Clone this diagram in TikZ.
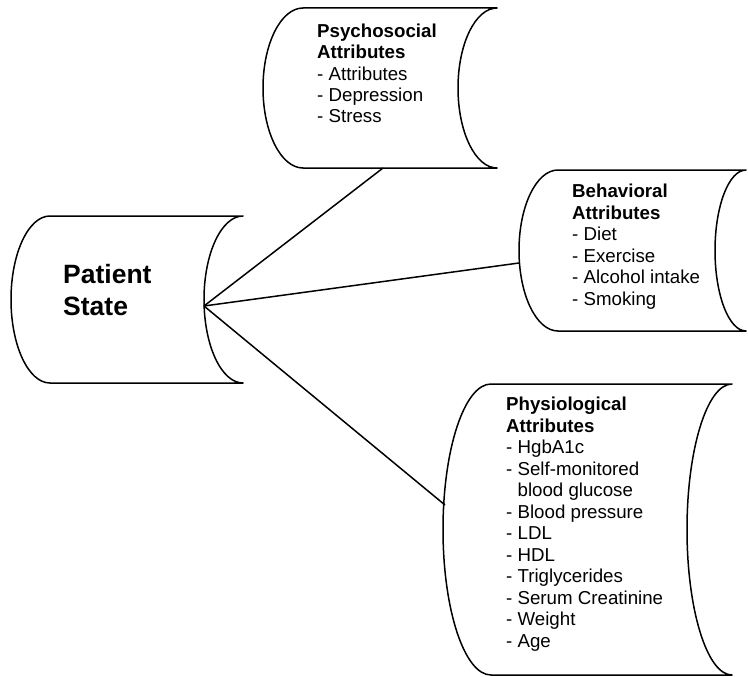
\documentclass[tikz,border=0pt]{standalone}
\usepackage{fontspec}
\setmainfont{Liberation Sans}
\begin{document}
\begin{tikzpicture}
[x=1pt,y=-1pt,
  storedecorate/.style={draw,line width=1.5pt,line join=round},%
  linedecorate/.style={-,line width=1.5pt},%
  textdecorate/.style={anchor=base west,inner sep=0pt,align=left,font=\fontsize{18.7}{21.5}\selectfont},%
  titledecorate/.style={anchor=base west,inner sep=0pt,align=left,font=\fontsize{26.5}{32}\selectfont\bfseries}]
\useasboundingbox (0,0) rectangle (748,677);
%%% stored data shapes
% patient state
\draw[storedecorate] (50,216) -- (243,216)
  arc[start angle=270,end angle=90,x radius=39,y radius=83.5] -- (50,383)
  arc[start angle=90,end angle=270,x radius=39,y radius=83.5] -- cycle;
% psychosocial
\draw[storedecorate] (303,8) -- (497,8)
  arc[start angle=270,end angle=90,x radius=39,y radius=80] -- (303,168)
  arc[start angle=90,end angle=270,x radius=40,y radius=80] -- cycle;
% behavioral
\draw[storedecorate] (558,170) -- (746,170)
  arc[start angle=270,end angle=90,x radius=31,y radius=80.5] -- (558,331)
  arc[start angle=90,end angle=270,x radius=39,y radius=80.5] -- cycle;
% physiological
\draw[storedecorate] (491,384) -- (732,384)
  arc[start angle=270,end angle=90,x radius=45,y radius=145.5] -- (491,675)
  arc[start angle=90,end angle=270,x radius=48,y radius=145.5] -- cycle;
%
%%% texts (placed at the baseline of their last line)
\node (patient) at (63,315) [titledecorate] {Patient\\State};
\node (psych) at (317,123) [textdecorate]
  {\textbf{Psychosocial}\\\textbf{Attributes}\\- Attributes\\- Depression\\- Stress};
\node (behav) at (572,305) [textdecorate]
  {\textbf{Behavioral}\\\textbf{Attributes}\\- Diet\\- Exercise\\- Alcohol intake\\- Smoking};
\node (physio) at (506,647) [textdecorate]
  {\textbf{Physiological}\\\textbf{Attributes}\\- HgbA1c\\- Self-monitored\\\phantom{- }blood glucose\\- Blood pressure\\- LDL\\- HDL\\- Triglycerides\\- Serum Creatinine\\- Weight\\- Age};
%
%%% connectors
% end points on the outlines
\coordinate (patient-out) at (204,306);
\coordinate (psych-in) at (383,168);
\coordinate (behav-in) at (519,263);
\coordinate (physio-in) at (445,505);
\path
(patient-out) edge[linedecorate] (psych-in)
(patient-out) edge[linedecorate] (behav-in)
(patient-out) edge[linedecorate] (physio-in);
\end{tikzpicture}
\end{document}
